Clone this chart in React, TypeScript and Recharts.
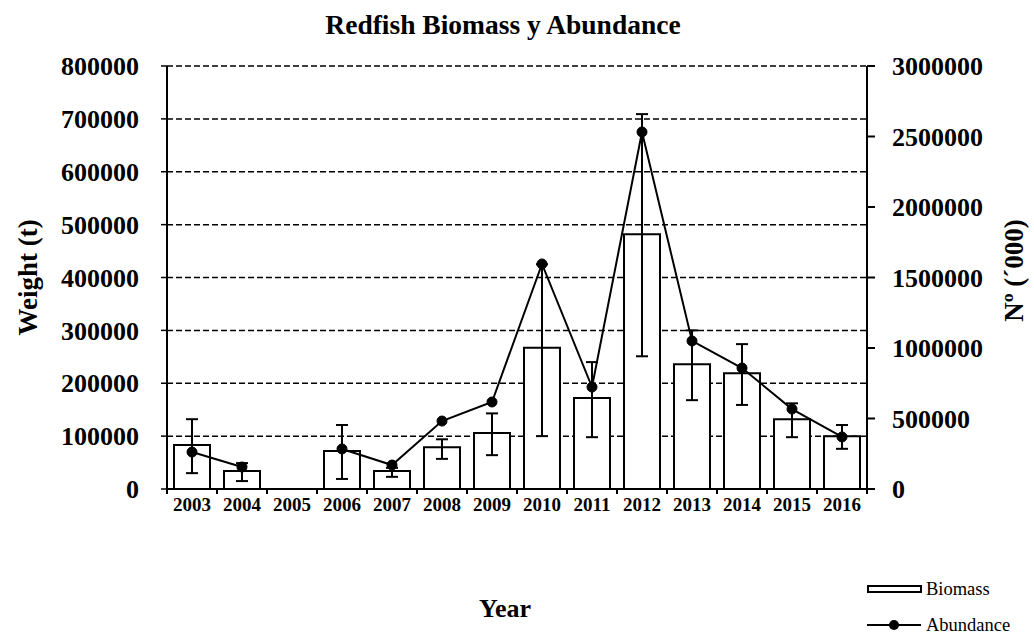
import {
  ComposedChart,
  Bar,
  Line,
  XAxis,
  YAxis,
  CartesianGrid,
  ErrorBar,
  Legend,
} from "recharts";

const years = [
  "2003", "2004", "2005", "2006", "2007", "2008", "2009",
  "2010", "2011", "2012", "2013", "2014", "2015", "2016",
];
const biomass = [
  83000, 34000, null, 72000, 34000, 79000, 106000,
  267000, 172000, 482000, 236000, 219000, 132000, 100000,
];
const biomassLow = [
  30000, 15000, null, 19000, 23000, 57000, 64000,
  100000, 98000, 251000, 168000, 159000, 98000, 76000,
];
const biomassHigh = [
  132000, 49000, null, 121000, 40000, 94000, 143000,
  425000, 240000, 709000, 300000, 274000, 162000, 121000,
];
const abundance = [
  262000, 156000, null, 284000, 170000, 482000, 617000,
  1596000, 723000, 2532000, 1050000, 858000, 567000, 369000,
];
const leftTicks = [0, 100000, 200000, 300000, 400000, 500000, 600000, 700000, 800000];
const rightTicks = [0, 500000, 1000000, 1500000, 2000000, 2500000, 3000000];

const data = years.map((year, i) => {
  const b = biomass[i];
  const lo = biomassLow[i];
  const hi = biomassHigh[i];
  return {
    year,
    biomass: b,
    biomassErr: b == null || lo == null || hi == null ? null : [b - lo, hi - b],
    abundance: abundance[i],
  };
});

const serif = "'Liberation Serif', 'Times New Roman', serif";
const chartW = 1034;
const axisW = 167;
// half of one category band, used to put the little x ticks between years
const halfBand = (chartW - 2 * axisW) / years.length / 2;

function YearTick(props: any) {
  const { x, y, payload, index } = props;
  return (
    <g>
      <line x1={x + halfBand} y1={y - 9} x2={x + halfBand} y2={y - 4} stroke="#000" strokeWidth={2} />
      {index === 0 && (
        <line x1={x - halfBand} y1={y - 9} x2={x - halfBand} y2={y - 4} stroke="#000" strokeWidth={2} />
      )}
      <text
        x={x}
        y={y}
        dy="0.71em"
        textAnchor="middle"
        fill="#000"
        fontFamily={serif}
        fontWeight="bold"
        fontSize={19}
      >
        {payload.value}
      </text>
    </g>
  );
}

function LegendBox() {
  return (
    <div style={{ fontFamily: serif, fontSize: 18.5, color: "#000" }}>
      <div style={{ display: "flex", alignItems: "center", height: 22 }}>
        <svg width={59} height={12}>
          <rect x={1} y={3} width={53} height={6} fill="#fff" stroke="#000" strokeWidth={2} />
        </svg>
        <span>Biomass</span>
      </div>
      <div style={{ display: "flex", alignItems: "center", height: 22, marginTop: 14 }}>
        <svg width={59} height={12}>
          <line x1={0} y1={6} x2={54} y2={6} stroke="#000" strokeWidth={2} />
          <circle cx={27} cy={6} r={5} fill="#000" />
        </svg>
        <span>Abundance</span>
      </div>
    </div>
  );
}

export default function App() {
  return (
    <div style={{ position: "absolute", left: 0, top: 0, width: chartW, height: 635 }}>
      <div
        style={{
          position: "absolute",
          left: 0,
          width: 1006,
          top: 9,
          textAlign: "center",
          fontFamily: serif,
          fontWeight: "bold",
          fontSize: 27.5,
          lineHeight: "32px",
        }}
      >
        Redfish Biomass y Abundance
      </div>
      <ComposedChart
        width={chartW}
        height={635}
        data={data}
        margin={{ top: 66, right: 0, bottom: 0, left: 0 }}
        barSize={36}
      >
        <CartesianGrid
          yAxisId="left"
          vertical={false}
          stroke="#000"
          strokeWidth={1.5}
          strokeDasharray="6 3"
        />
        <XAxis
          dataKey="year"
          height={146}
          axisLine={{ stroke: "#000", strokeWidth: 2 }}
          tickLine={false}
          tickMargin={3}
          interval={0}
          tick={<YearTick />}
          label={{
            value: "Year",
            position: "insideBottom",
            offset: 18,
            dx: -12,
            fill: "#000",
            fontFamily: serif,
            fontWeight: "bold",
            fontSize: 26,
          }}
        />
        <YAxis
          yAxisId="left"
          width={axisW}
          domain={[0, 800000]}
          ticks={leftTicks}
          interval={0}
          axisLine={{ stroke: "#000", strokeWidth: 2 }}
          tickLine={{ stroke: "#000", strokeWidth: 1.5 }}
          tickSize={6}
          tickMargin={22}
          tick={{ fill: "#000", fontFamily: serif, fontWeight: "bold", fontSize: 26 }}
          label={{
            value: "Weight (t)",
            angle: -90,
            position: "insideLeft",
            offset: 27,
            style: { textAnchor: "middle" },
            fill: "#000",
            fontFamily: serif,
            fontWeight: "bold",
            fontSize: 27,
          }}
        />
        <YAxis
          yAxisId="right"
          orientation="right"
          width={axisW}
          domain={[0, 3000000]}
          ticks={rightTicks}
          interval={0}
          axisLine={{ stroke: "#000", strokeWidth: 2 }}
          tickLine={{ stroke: "#000", strokeWidth: 2 }}
          tickSize={8}
          tickMargin={17}
          tick={{ fill: "#000", fontFamily: serif, fontWeight: "bold", fontSize: 26 }}
          label={{
            value: "Nº (´000)",
            angle: -90,
            position: "insideRight",
            offset: 21,
            dy: -7,
            style: { textAnchor: "middle" },
            fill: "#000",
            fontFamily: serif,
            fontWeight: "bold",
            fontSize: 27,
          }}
        />
        <Bar
          yAxisId="left"
          dataKey="biomass"
          name="Biomass"
          fill="#fff"
          stroke="#000"
          strokeWidth={2}
          isAnimationActive={false}
        >
          <ErrorBar dataKey="biomassErr" width={6} stroke="#000" strokeWidth={2} />
        </Bar>
        <Line
          yAxisId="right"
          dataKey="abundance"
          name="Abundance"
          stroke="#000"
          strokeWidth={2}
          dot={{ r: 5, fill: "#000", stroke: "#000", strokeWidth: 1 }}
          isAnimationActive={false}
        />
        <Legend
          layout="vertical"
          align="center"
          verticalAlign="middle"
          content={() => <LegendBox />}
          wrapperStyle={{ left: 867, top: 578, width: 167, height: 57 }}
        />
      </ComposedChart>
    </div>
  );
}
